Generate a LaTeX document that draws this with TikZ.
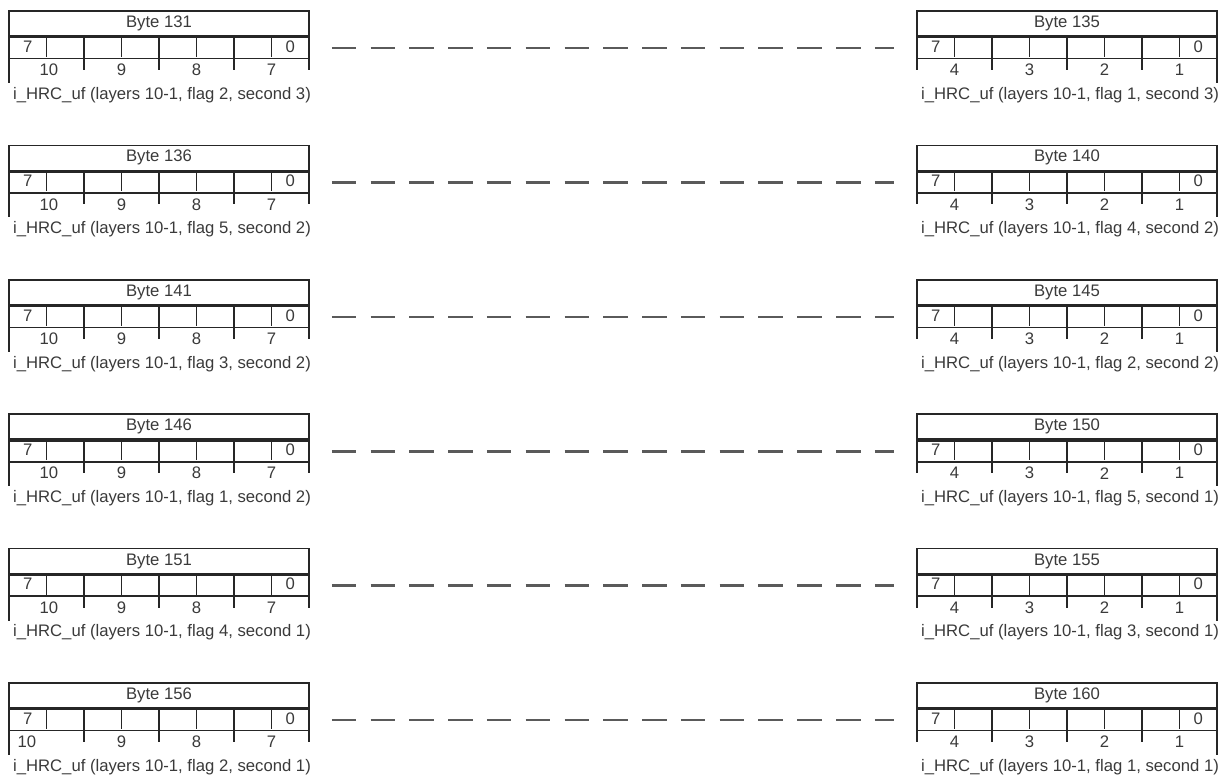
\documentclass[tikz,border=0pt]{standalone}
\usepackage{xcolor}
\usepackage{fontspec}
\setmainfont{Liberation Sans}
\usetikzlibrary{positioning}
\definecolor{linecol}{HTML}{262626}
\definecolor{textcol}{HTML}{3a3a3a}
\definecolor{gapcol}{HTML}{5a5a5a}

\begin{document}
\begin{tikzpicture}[
    x=0.02cm, y=-0.02cm,
    every node/.style={inner sep=0pt, text=textcol,
                       font=\fontsize{9.5}{11}\selectfont},
    bytebox/.style={rectangle, draw=linecol, line width=0.9pt,
                    minimum width=6cm, minimum height=0.5cm},
    bitbox/.style={rectangle, draw=linecol, line width=0.9pt,
                   minimum width=6cm, minimum height=0.42cm},
    cell/.style={draw=linecol, line width=0.55pt},
    pairtick/.style={draw=linecol, line width=0.9pt},
    gapline/.style={draw=gapcol, line width=1.4pt,
                    dash pattern=on 0.49cm off 0.286cm,
                    shorten <=0.44cm, shorten >=0.44cm}
]
\useasboundingbox (0,0) rectangle (1223,776);

% one row: left byte ... right byte
\foreach \i/\la/\lb/\fa/\fb/\tx in {
    0/131/135/{flag 2, second 3}/{flag 1, second 3}/40,
    1/136/140/{flag 5, second 2}/{flag 4, second 2}/40,
    2/141/145/{flag 3, second 2}/{flag 2, second 2}/40,
    3/146/150/{flag 1, second 2}/{flag 5, second 1}/40,
    4/151/155/{flag 4, second 1}/{flag 3, second 1}/40,
    5/156/160/{flag 2, second 1}/{flag 1, second 1}/18}
{
  \pgfmathsetmacro\T{11+134.4*\i}
  \foreach \s/\xo/\n/\f/\lt/\fx/\p in {
      L/9/\la/{\fa}/0/\tx/{10,9,8,7},
      R/917/\lb/{\fb}/4/37.5/{4,3,2,1}}
  {
    \node[bytebox] (byte\s\i) at ({\xo+150},{\T+12.5}) {Byte \n};
    \node[bitbox, below=0pt of byte\s\i] (bits\s\i) {};
    % bit cells
    \foreach \k in {1,3,5,7}
      \draw[cell] ({\xo+37.5*\k},{\T+25}) -- ++(0,21);
    \foreach \k in {2,4,6}
      \draw[pairtick] ({\xo+37.5*\k},{\T+25}) -- ++(0,21);
    \node (msb\s\i) at ({\xo+18.75},{\T+35.5}) {7};
    \node (lsb\s\i) at ({\xo+281.25},{\T+35.5}) {0};
    % ticks and layer numbers
    \foreach \k in {0,...,4}
      \draw[pairtick] ({\xo+75*\k},{\T+46}) -- ++(0,{ifthenelse(\k==\lt,26,13)});
    \foreach \v [count=\c] in \p
      \node (lay\s\i\c) at ({\xo+75*(\c-1)+ifthenelse(\c==1,\fx,37.5)},{\T+59}) {\v};
    \node (name\s\i) at ({\xo+153},{\T+84})
      {i\_HRC\_uf (layers 10-1, \f)};
  }
  \draw[gapline] (bitsL\i) -- (bitsR\i);
}
\end{tikzpicture}
\end{document}
